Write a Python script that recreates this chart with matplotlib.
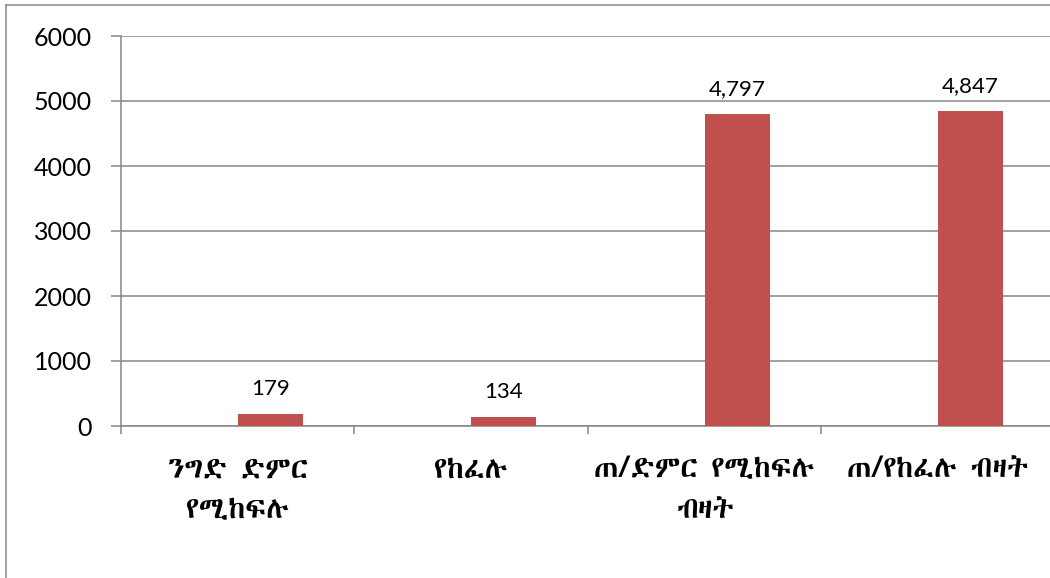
import numpy as np
from matplotlib import pyplot as plt
from matplotlib import font_manager
from matplotlib.lines import Line2D
from matplotlib.ticker import FixedLocator

categories = ['ንግድ ድምር\nየሚከፍሉ', 'የከፈሉ', 'ጠ/ድምር የሚከፍሉ\nብዛት', 'ጠ/የከፈሉ ብዛት']
values = [179, 134, 4797, 4847]
yticks = [0, 1000, 2000, 3000, 4000, 5000, 6000]


def find_font(codepoint):
    # look for installed fonts that have the glyph, prefer a dedicated one
    try:
        from fontTools.ttLib import TTFont
    except ImportError:
        return None
    found = []
    for f in font_manager.fontManager.ttflist:
        try:
            tt = TTFont(f.fname, fontNumber=0, lazy=True)
            cmap = tt.getBestCmap()
            if cmap and codepoint in cmap:
                found.append(f.name)
        except Exception:
            pass
    for name in found:
        if 'Ethiopic' in name or 'Abyssinica' in name:
            return name
    return found[0] if found else None


eth = find_font(0x1295)
plt.rcParams['font.family'] = ['Lato', 'DejaVu Sans']
label_family = [eth, 'Lato', 'DejaVu Sans'] if eth else ['Lato', 'DejaVu Sans']

grey = '#868686'

fig = plt.figure(figsize=(10.5, 5.78), dpi=100)
ax = fig.add_axes([121/1050, 152/578, 929/1050, 390/578])

x = np.arange(len(categories))
bars = ax.bar(x, values, width=0.28, align='edge', color='#C0504D', zorder=3)
ax.bar_label(bars, labels=['{:,}'.format(v) for v in values], padding=11, fontsize=16)

ax.set_xlim(-0.5, 3.48)
ax.set_ylim(0, 6000)
ax.set_yticks(yticks)
ax.yaxis.grid(True, color=grey, linewidth=1.1, zorder=0)

ax.set_xticks(x)
ax.set_xticklabels(categories, fontsize=21.5, linespacing=1.55, family=label_family)
ax.xaxis.set_minor_locator(FixedLocator(np.arange(-0.5, 3.5, 1.0)))
ax.tick_params(axis='x', which='major', length=0, pad=21)
ax.tick_params(axis='x', which='minor', length=6, width=1.1, color=grey)
ax.tick_params(axis='y', length=7.2, width=1.1, color=grey, labelsize=18, pad=14)

for s in ['top', 'right']:
    ax.spines[s].set_visible(False)
for s in ['left', 'bottom']:
    ax.spines[s].set_color(grey)
    ax.spines[s].set_linewidth(1.1)

# outer chart border (only left and top visible in the crop)
fig.add_artist(Line2D([6/1050, 6/1050], [0, 1 - 5/578], color=grey, linewidth=1.1))
fig.add_artist(Line2D([6/1050, 1], [1 - 5/578, 1 - 5/578], color=grey, linewidth=1.1))

plt.savefig('out.png', dpi=100)
plt.close()
